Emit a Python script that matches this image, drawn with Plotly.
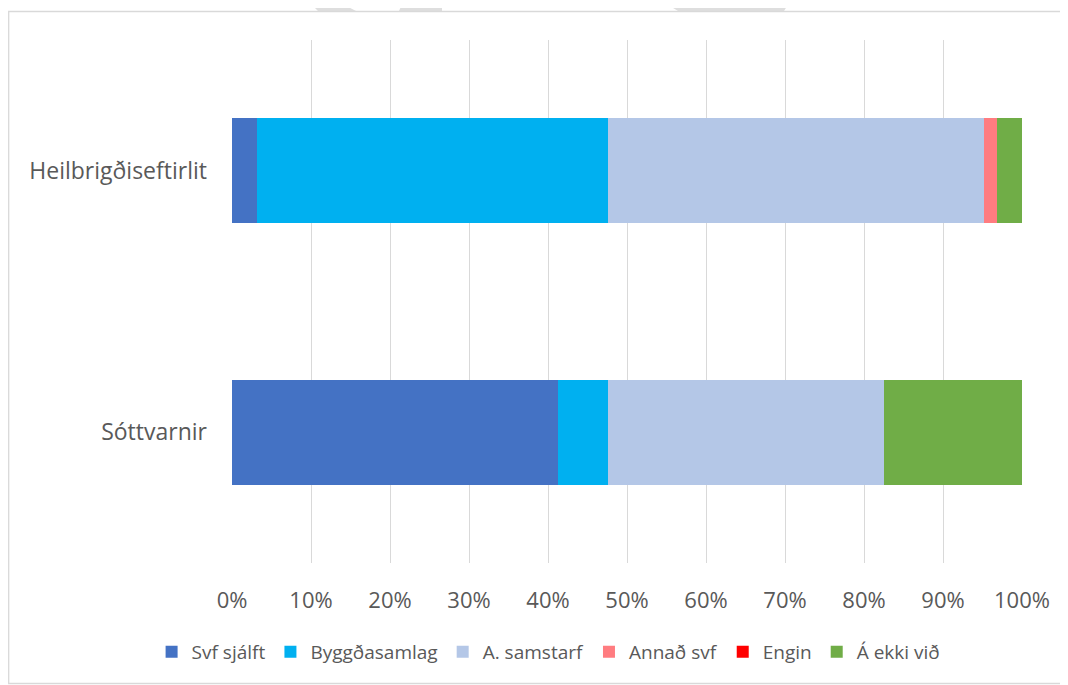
import plotly.graph_objects as go

categories = ["Heilbrigðiseftirlit", "Sóttvarnir"]
series_names = ["Svf sjálft", "Byggðasamlag", "A. samstarf", "Annað svf", "Engin", "Á ekki við"]
svf_sjalft = [3.17, 41.27]
byggdasamlag = [44.44, 6.35]
a_samstarf = [47.62, 34.92]
annad_svf = [1.59, 0.0]
engin = [0.0, 0.0]
a_ekki_vid = [3.17, 17.46]
tick_vals = [0, 10, 20, 30, 40, 50, 60, 70, 80, 90, 100]
tick_text = ["0%", "10%", "20%", "30%", "40%", "50%", "60%", "70%", "80%", "90%", "100%"]

colors = ["#4472C4", "#00B0F0", "#B4C7E7", "#FF7C80", "#FF0000", "#70AD47"]
values = [svf_sjalft, byggdasamlag, a_samstarf, annad_svf, engin, a_ekki_vid]

# page body has an 8px margin; work in page pixel coords and shift
OFF = 8
W, H = 1068 - OFF, 685 - OFF
L, R, T, B = 232 - OFF, 1022 - OFF, 40 - OFF, 563 - OFF

fig = go.Figure()
for name, vals, col in zip(series_names, values, colors):
    fig.add_trace(go.Bar(
        y=categories, x=vals, name=name, orientation="h",
        marker=dict(color=col, line=dict(width=0)),
    ))

def px2paper(px, py):
    px, py = px - OFF, py - OFF
    return (px - L) / (R - L), (B - py) / (B - T)

def poly(points):
    parts = []
    for i, (px, py) in enumerate(points):
        xp, yp = px2paper(px, py)
        parts.append(("M" if i == 0 else "L") + f"{xp:.5f},{yp:.5f}")
    return " ".join(parts) + " Z"

shapes = []
for pts in [
    [(307, 0), (335, 0), (356, 11), (318, 11)],
    [(404, 0), (442, 0), (442, 11), (399, 11)],
    [(660, 0), (791, 0), (784, 11), (678, 11)],
]:
    shapes.append(dict(type="path", xref="paper", yref="paper", path=poly(pts),
                       fillcolor="#DEDEDE", line=dict(width=0), layer="below"))
x0, y0 = px2paper(8.7, 11.5)
x1, y1 = px2paper(1090, 683.5)
shapes.append(dict(type="rect", xref="paper", yref="paper", x0=x0, y0=y1, x1=x1, y1=y0,
                   line=dict(color="#D9D9D9", width=1.3), fillcolor="rgba(0,0,0,0)", layer="below"))

fig.update_layout(
    width=W, height=H,
    barmode="stack",
    bargap=0.6,
    plot_bgcolor="white",
    paper_bgcolor="white",
    margin=dict(l=L, r=W - R, t=T, b=H - B, pad=0, autoexpand=False),
    font=dict(family="Open Sans", color="#595959", size=21),
    xaxis=dict(range=[0, 100], tickvals=tick_vals, ticktext=tick_text,
               showgrid=True, gridcolor="#D9D9D9", gridwidth=1.3,
               zeroline=False, showline=False, ticks="", ticklabelstandoff=22,
               tickfont=dict(size=22, color="#595959"), fixedrange=True),
    yaxis=dict(categoryorder="array", categoryarray=categories[::-1],
               showgrid=False, zeroline=False, showline=False, ticks="",
               ticklabelstandoff=24, tickfont=dict(size=23, color="#595959")),
    legend=dict(orientation="h", xref="container", yref="container",
                x=0.51, xanchor="center", y=1 - (652 - OFF) / H, yanchor="middle",
                font=dict(size=19, color="#595959"), traceorder="normal",
                bgcolor="rgba(0,0,0,0)", itemwidth=30, tracegroupgap=0),
    shapes=shapes,
    showlegend=True,
)

fig.write_html("out.html")
